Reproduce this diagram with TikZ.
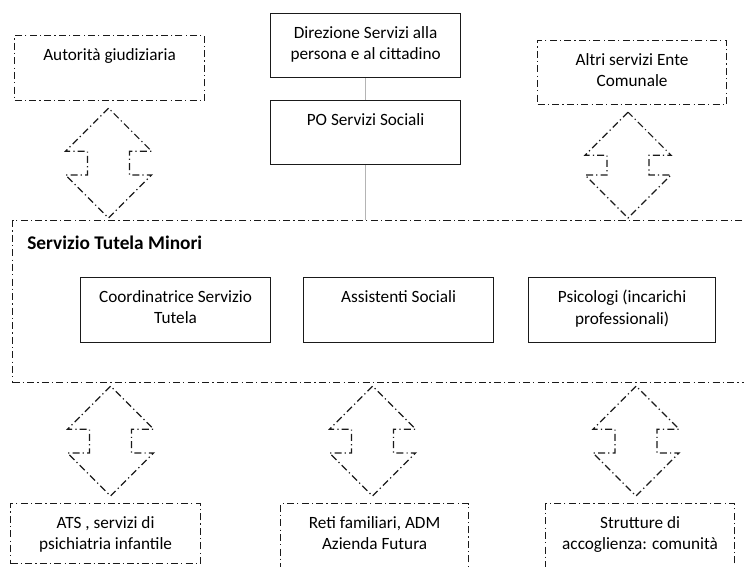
\documentclass[tikz,border=0pt]{standalone}
\usepackage{fontspec}
\setmainfont{Carlito}
\definecolor{TInk}{HTML}{1A1A1A}
\definecolor{TLink}{HTML}{B4B4B4}
\usetikzlibrary{calc,positioning}
\tikzset{
  txt/.style={font=\fontsize{9.8}{12.2}\selectfont,align=center,inner sep=0pt},
  solidbox/.style={draw=TInk,line width=0.7pt,inner sep=0pt,anchor=north west},
  dotbox/.style={solidbox,dash pattern=on 4pt off 1.8pt on 0.7pt off 1.8pt},
  boxtext/.style={label={[txt,anchor=north,yshift=-0.26cm]north:{#1}}},
  duo/.style={draw=TInk,line width=0.7pt,dash pattern=on 4pt off 1.8pt on 0.7pt off 1.8pt},
}
% double-headed outline arrow from tip #1 (top) to tip #2 (bottom)
\newcommand{\duoarrow}[2]{%
  \draw[duo] (#1) -- ++(-43,43) -- ++(22,0) -- ($(#2)+(-21,-43)$) -- ++(-22,0)
    -- (#2) -- ++(43,-43) -- ++(-22,0) -- ($(#1)+(21,43)$) -- ++(22,0) -- cycle;}
\begin{document}
\begin{tikzpicture}[x=0.02cm,y=-0.02cm]
    \useasboundingbox (0,0) rectangle (744,566);
    \clip (0,0) rectangle (744,566);
    % top row
    \node[dotbox,minimum width=3.8cm,minimum height=1.3cm,
      boxtext={Autorità giudiziaria}] (aut) at (14,35) {};
    \node[solidbox,minimum width=3.8cm,minimum height=1.28cm,
      boxtext={Direzione Servizi alla\\persona e al cittadino}] (dir) at (270,13) {};
    \node[solidbox,minimum width=3.8cm,minimum height=1.28cm,
      boxtext={PO Servizi Sociali}] (po) at (270,100) {};
    \node[dotbox,minimum width=3.78cm,minimum height=1.28cm,
      boxtext={Altri servizi Ente\\Comunale}] (altri) at (537,40) {};
    % service frame
    \node[dotbox,minimum width=14.72cm,minimum height=3.24cm] (tutela) at (12,220) {};
    \node[font=\fontsize{11}{13}\selectfont\bfseries,anchor=base west,inner sep=0pt]
      (title) at (27,249) {Servizio Tutela Minori};
    \node[solidbox,minimum width=3.8cm,minimum height=1.3cm,
      boxtext={Coordinatrice Servizio\\Tutela}] (coord) at (80,277) {};
    \node[solidbox,minimum width=3.8cm,minimum height=1.3cm,
      boxtext={Assistenti Sociali}] (ass) at (303,277) {};
    \node[solidbox,minimum width=3.74cm,minimum height=1.3cm,
      boxtext={Psicologi (incarichi\\professionali)}] (psi) at (528,277) {};
    % bottom row
    \node[dotbox,minimum width=3.8cm,minimum height=1.2cm,
      boxtext={ATS , servizi di\\psichiatria infantile}] (ats) at (10,503) {};
    \node[dotbox,minimum width=3.76cm,minimum height=1.5cm,
      boxtext={Reti familiari, ADM\\Azienda Futura}] (reti) at (280,503) {};
    \node[dotbox,minimum width=3.78cm,minimum height=1.5cm,
      boxtext={Strutture di\\accoglienza: comunità}] (strut) at (545,503) {};
    % hierarchy lines
    \draw[TLink,line width=0.6pt] (dir.south) -- (po.north);
    \draw[TLink,line width=0.6pt] (po.south) -- (po.south |- tutela.north);
    % exchanges
    \duoarrow{$(aut.south)+(-1,7)$}{$(aut.south |- tutela.north)+(-1,-2)$}
    \duoarrow{$(altri.south)+(-4,7)$}{$(altri.south |- tutela.north)+(-4,-2)$}
    \duoarrow{$(ats.north |- tutela.south)+(5,3)$}{$(ats.north)+(5,-7)$}
    \duoarrow{$(reti.north |- tutela.south)+(-2,3)$}{$(reti.north)+(-2,-7)$}
    \duoarrow{$(strut.north |- tutela.south)+(-4,3)$}{$(strut.north)+(-4,-7)$}
  \end{tikzpicture}
\end{document}
